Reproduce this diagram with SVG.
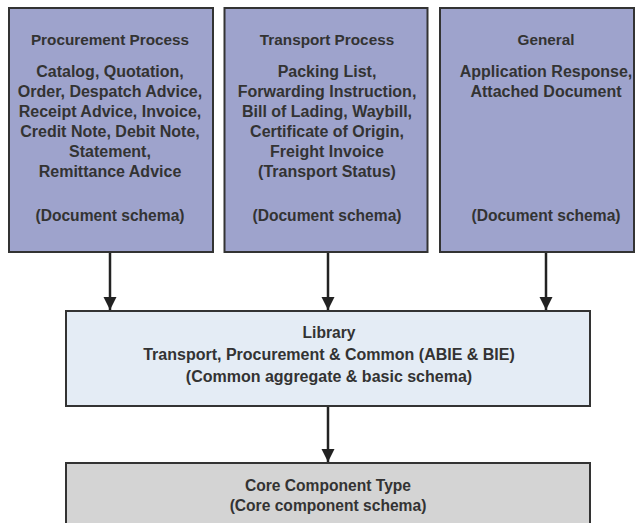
<svg xmlns="http://www.w3.org/2000/svg" width="635" height="523" viewBox="0 0 635 523">
  <style>
    .doc { fill: #9ea3cc; stroke: #333333; stroke-width: 2; }
    .lib { fill: #e4ecf5; stroke: #333333; stroke-width: 2; }
    .core { fill: #d4d4d4; stroke: #333333; stroke-width: 2; }
    text { font-family: "Liberation Sans", Arial, sans-serif; font-size: 16px; font-weight: bold; fill: #333333; text-anchor: middle; }
    text.title { font-size: 15.3px; }
    text.note { font-size: 15.6px; }
    .conn line { stroke: #222222; stroke-width: 2.5; }
  </style>
  <defs>
    <marker id="arrow" markerUnits="userSpaceOnUse" markerWidth="14" markerHeight="18" refX="13" refY="6.5" orient="auto">
      <path d="M0,0 L13,6.5 L0,13 Z" fill="#222222"/>
    </marker>
  </defs>

  <rect width="635" height="523" fill="#ffffff"/>

  <!-- document schema boxes -->
  <g id="procurement">
    <rect class="doc" x="9" y="8" width="204" height="244"/>
    <text class="title" x="110" y="45">Procurement Process</text>
    <text x="110" y="77">Catalog, Quotation,</text>
    <text x="110" y="97">Order, Despatch Advice,</text>
    <text x="110" y="117">Receipt Advice, Invoice,</text>
    <text x="110" y="137">Credit Note, Debit Note,</text>
    <text x="110" y="157">Statement,</text>
    <text x="110" y="177">Remittance Advice</text>
    <text class="note" x="110" y="221">(Document schema)</text>
  </g>

  <g id="transport">
    <rect class="doc" x="224.5" y="8" width="203" height="244"/>
    <text class="title" x="327" y="45">Transport Process</text>
    <text x="327" y="77">Packing List,</text>
    <text x="327" y="97">Forwarding Instruction,</text>
    <text x="327" y="117">Bill of Lading, Waybill,</text>
    <text x="327" y="137">Certificate of Origin,</text>
    <text x="327" y="157">Freight Invoice</text>
    <text x="327" y="177">(Transport Status)</text>
    <text class="note" x="327" y="221">(Document schema)</text>
  </g>

  <g id="general">
    <rect class="doc" x="440" y="8" width="194" height="244"/>
    <text class="title" x="546" y="45">General</text>
    <text x="546" y="77">Application Response,</text>
    <text x="546" y="97">Attached Document</text>
    <text class="note" x="546" y="221">(Document schema)</text>
  </g>

  <!-- shared library -->
  <g id="library">
    <rect class="lib" x="66" y="311" width="524" height="95"/>
    <text class="note" x="329" y="338">Library</text>
    <text x="329" y="360">Transport, Procurement &amp; Common (ABIE &amp; BIE)</text>
    <text x="329" y="382">(Common aggregate &amp; basic schema)</text>
  </g>

  <!-- core component types -->
  <g id="core">
    <rect class="core" x="66" y="463" width="524" height="70"/>
    <text class="note" x="328" y="491">Core Component Type</text>
    <text class="note" x="328" y="511">(Core component schema)</text>
  </g>

  <!-- connectors -->
  <g class="conn">
    <line x1="110" y1="253" x2="110" y2="310" marker-end="url(#arrow)"/>
    <line x1="328" y1="253" x2="328" y2="310" marker-end="url(#arrow)"/>
    <line x1="546" y1="253" x2="546" y2="310" marker-end="url(#arrow)"/>
    <line x1="328" y1="407" x2="328" y2="462" marker-end="url(#arrow)"/>
  </g>
</svg>
